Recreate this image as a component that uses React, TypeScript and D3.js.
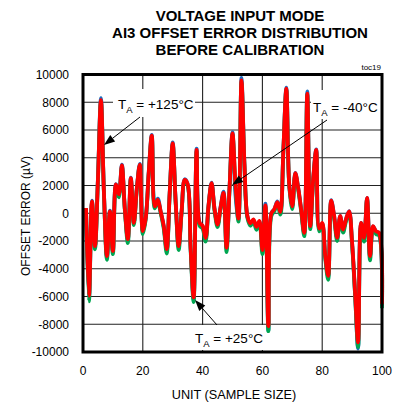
import React from "react";
import * as d3 from "d3";

const titleLines = ["VOLTAGE INPUT MODE", "AI3 OFFSET ERROR DISTRIBUTION", "BEFORE CALIBRATION"];
const xTicks = [0, 20, 40, 60, 80, 100];
const yTicks = [10000, 8000, 6000, 4000, 2000, 0, -2000, -4000, -6000, -8000, -10000];
const units = d3.range(1, 101);

const red125 = [
  380, -5950, 860, -2370, 2500, 8150, 1500, -3080, 140, -2720,
  2080, 1370, 3440, 300, -1860, 2530, -690, 1800, 3510, -1290,
  -300, 3000, 5600, 500, 980, 100, -900, -2580, 1500, 5040,
  800, -2370, 200, 2400, 2100, -2500, -6070, 4560, -690, -900,
  -1770, 600, 2170, 300, -810, 400, 1460, -2490, 1800, 5760,
  2060, -380, 9580, 3500, -200, -720, -450, -980, -550, -2650,
  570, -8150, 0, 300, 800, 100, 4500, 8980, 2000, 500,
  2890, 1800, 200, -1410, 8620, -930, 2500, 4560, -1100, -700,
  -3000, -4510, 900, -200, -1770, -200, -1170, -400, 140, -2100,
  -5700, -9300, -690, -1770, 1100, -3080, -930, -1300, -1400, -6550,
];
const green25 = [
  300, -6350, 780, -2600, 2400, 8050, 1400, -3350, 60, -2950,
  1950, 1150, 3350, 200, -2150, 2450, -850, 1700, 3450, -1500,
  -400, 2900, 5500, 350, 850, 0, -1100, -2900, 1400, 4950,
  700, -2650, 100, 2300, 2000, -2700, -6400, 4450, -900, -1100,
  -2050, 500, 2100, 150, -1000, 300, 1350, -2800, 1700, 5650,
  1950, -600, 9450, 3400, -350, -900, -600, -1200, -700, -2950,
  450, -8500, -200, 150, 700, -100, 4400, 8900, 1900, 300,
  2800, 1650, 50, -1650, 8550, -1150, 2400, 4450, -1300, -900,
  -3200, -4800, 800, -400, -2000, -350, -1400, -550, 0, -2300,
  -5900, -9650, -900, -2050, 1000, -3400, -1100, -1500, -1600, -6850,
];
const blue40 = [
  380, -6100, 900, -2400, 2550, 8300, 1550, -3150, 180, -2750,
  2100, 1350, 3500, 300, -1900, 2560, -700, 1800, 3550, -1300,
  -300, 3000, 5650, 550, 1050, 100, -950, -2650, 1500, 5100,
  800, -2400, 200, 2450, 2100, -2550, -6200, 4650, -700, -950,
  -1800, 600, 2200, 300, -850, 450, 1550, -2550, 1750, 5850,
  1300, -450, 9750, 3500, -250, -750, -500, -1000, -600, -2700,
  700, -8450, 0, 300, 850, 100, 4500, 9050, 2000, 500,
  2900, 1800, 200, -1450, 8780, -950, 2500, 4600, -1150, -750,
  -3050, -4600, 950, -200, -1800, -200, -1200, -400, 150, -2150,
  -5850, -9750, -700, -1800, 1100, -3150, -950, -1300, -1450, -6700,
];

const W = 401, H = 407;
const L = 83, R = 382, T = 74.5, B = 352;

function Arrow({ x1, y1, x2, y2 }: { x1: number; y1: number; x2: number; y2: number }) {
  const ang = Math.atan2(y2 - y1, x2 - x1);
  const len = 11, half = 4;
  const bx = x2 - len * Math.cos(ang), by = y2 - len * Math.sin(ang);
  const px = -Math.sin(ang) * half, py = Math.cos(ang) * half;
  return (
    <g>
      <line x1={x1} y1={y1} x2={bx} y2={by} stroke="#000" strokeWidth={1} />
      <path d={`M${x2},${y2}L${bx + px},${by + py}L${bx - px},${by - py}Z`} fill="#000" />
    </g>
  );
}

function Label({ x, y, rest }: { x: number; y: number; rest: string }) {
  return (
    <text x={x} y={y} fontSize={13.5} fill="#000">
      T<tspan fontSize={9.5} dy={4}>A</tspan>
      <tspan dy={-4}>{rest}</tspan>
    </text>
  );
}

export default function App() {
  const x = d3.scaleLinear().domain([0, 100]).range([L, R]);
  const y = d3.scaleLinear().domain([-10000, 10000]).range([B, T]);
  const line = d3
    .line<number>()
    .x((_, i) => x(units[i]))
    .y((d) => y(d))
    .curve(d3.curveCatmullRom.alpha(0.5));

  const font = "'Liberation Sans', Arial, sans-serif";
  return (
    <svg width={W} height={H} style={{ position: "absolute", left: 0, top: 0, fontFamily: font }}>
      <rect width={W} height={H} fill="#fff" />
      {titleLines.map((t, i) => (
        <text key={t} x={240} y={20.7 + i * 17.2} textAnchor="middle" fontSize={15} fontWeight="bold">
          {t}
        </text>
      ))}
      <text x={381} y={70} textAnchor="end" fontSize={8}>toc19</text>

      {/* grid */}
      {xTicks.slice(1, -1).map((t) => (
        <line key={"gx" + t} x1={x(t)} x2={x(t)} y1={T} y2={B} stroke="#222" strokeWidth={1.1} />
      ))}
      {yTicks.slice(1, -1).map((t) => (
        <line key={"gy" + t} x1={L} x2={R} y1={y(t)} y2={y(t)} stroke="#222" strokeWidth={1.1} />
      ))}

      {/* label boxes */}
      <rect x={113} y={89} width={82} height={28} fill="#fff" />
      <rect x={311} y={90} width={70} height={29} fill="#fff" />
      <rect x={193} y={325} width={71} height={25} fill="#fff" />

      {/* series */}
      <path d={line(blue40) || ""} fill="none" stroke="#1b6fc2" strokeWidth={3.8} strokeLinejoin="round" />
      <path d={line(green25) || ""} fill="none" stroke="#00a651" strokeWidth={3.8} strokeLinejoin="round" />
      <path d={line(red125) || ""} fill="none" stroke="#ff0000" strokeWidth={3.8} strokeLinejoin="round" />

      {/* frame */}
      <rect x={L} y={T} width={R - L} height={B - T} fill="none" stroke="#000" strokeWidth={3} />

      {/* axes labels */}
      {yTicks.map((t) => (
        <text key={"yt" + t} x={69} y={y(t) + 4.3} textAnchor="end" fontSize={12}>
          {t}
        </text>
      ))}
      {xTicks.map((t) => (
        <text key={"xt" + t} x={x(t)} y={375} textAnchor="middle" fontSize={12}>
          {t}
        </text>
      ))}
      <text x={234} y={399} textAnchor="middle" fontSize={12.7}>UNIT (SAMPLE SIZE)</text>
      <text transform={`translate(29.5,216) rotate(-90)`} textAnchor="middle" fontSize={12}>
        OFFSET ERROR (µV)
      </text>

      {/* annotations */}
      <Label x={118} y={109} rest=" = +125°C" />
      <Arrow x1={140} y1={117} x2={104} y2={145} />
      <Label x={313} y={111.5} rest=" = -40°C" />
      <Arrow x1={327} y1={120} x2={232} y2={185} />
      <Label x={195} y={343} rest=" = +25°C" />
      <Arrow x1={217} y1={325} x2={195} y2={300} />
    </svg>
  );
}
